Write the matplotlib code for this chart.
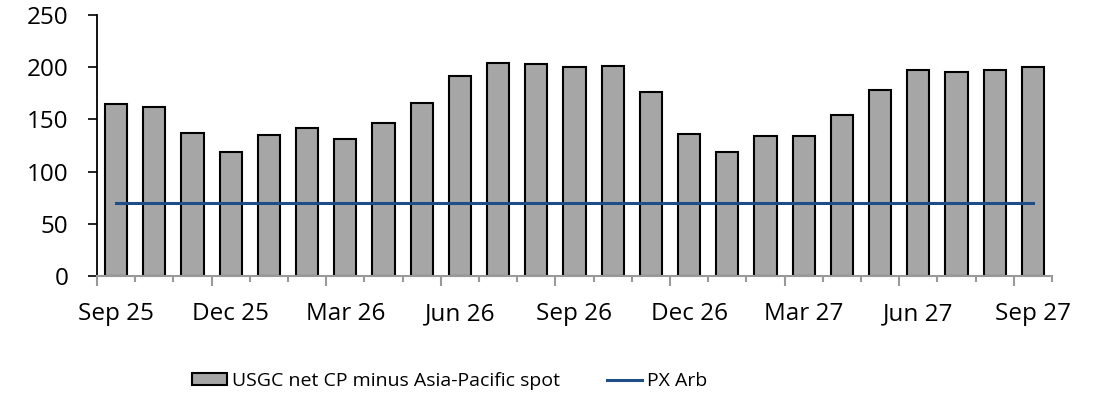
import numpy as np
import matplotlib
matplotlib.use("Agg")
import matplotlib.pyplot as plt

plt.rcParams['font.family'] = ['Open Sans', 'DejaVu Sans']

months = ["Sep 25", "Oct 25", "Nov 25", "Dec 25", "Jan 26", "Feb 26", "Mar 26",
          "Apr 26", "May 26", "Jun 26", "Jul 26", "Aug 26", "Sep 26", "Oct 26",
          "Nov 26", "Dec 26", "Jan 27", "Feb 27", "Mar 27", "Apr 27", "May 27",
          "Jun 27", "Jul 27", "Aug 27", "Sep 27"]
spread = [165, 162, 137, 119, 135, 142, 131, 147, 166, 192, 204, 203, 200,
          201, 176, 136, 119, 134, 134, 154, 178, 197, 195, 197, 200]
px_arb = [70] * 25

x = np.arange(len(months))

fig = plt.figure(figsize=(10.97, 4.08), dpi=100)
ax = fig.add_axes([0.0884, 0.3235, 0.8706, 0.6395])

bars = ax.bar(x, spread, width=0.58, color="#A6A6A6", edgecolor="black", linewidth=1.5,
              label="USGC net CP minus Asia-Pacific spot", zorder=2)
line, = ax.plot(x, px_arb, color="#1F4E86", linewidth=2.2, label="PX Arb", zorder=3)

ax.set_xlim(-0.5, len(months) - 0.5)
ax.set_ylim(0, 250)
ax.set_yticks(np.arange(0, 251, 50))
ax.tick_params(axis='y', length=6.5, width=1.2, pad=14, labelsize=17.5, direction='out')

ax.spines['top'].set_visible(False)
ax.spines['right'].set_visible(False)
ax.spines['left'].set_linewidth(1.3)
ax.spines['bottom'].set_color("#999999")
ax.spines['bottom'].set_linewidth(1.5)

# long ticks every quarter, short ticks every month
ax.set_xticks(np.arange(-0.5, len(months), 3))
ax.set_xticklabels([])
ax.set_xticks(np.arange(-0.5, len(months) + 0.5, 1), minor=True)
ax.tick_params(axis='x', which='major', length=7, width=1.5, color="#999999")
ax.tick_params(axis='x', which='minor', length=4, width=1.5, color="#999999")

sec = ax.secondary_xaxis('bottom')
sec.set_xticks(x[::3])
sec.set_xticklabels(months[::3])
sec.tick_params(length=0, pad=19, labelsize=17.5)
sec.spines['bottom'].set_visible(False)

fig.legend(handles=[bars, line], loc='center', bbox_to_anchor=(0.41, 0.066), ncol=2,
           frameon=False, fontsize=14, handlelength=1.8, handleheight=0.6,
           handletextpad=0.25, columnspacing=2.4)

fig.savefig("out.png", dpi=100)
